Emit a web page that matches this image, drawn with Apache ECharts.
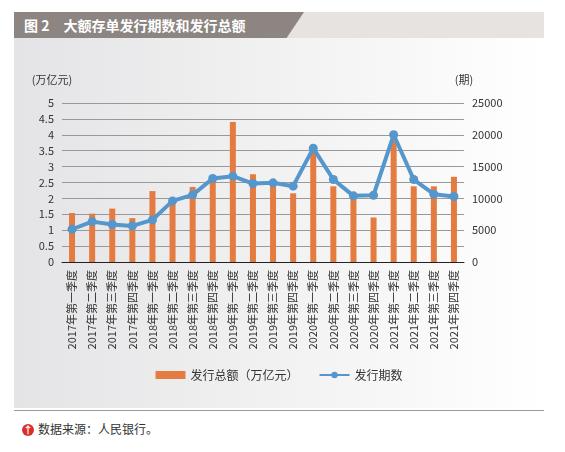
<!DOCTYPE html>
<html><head><meta charset="utf-8">
<script src="https://cdn.jsdelivr.net/npm/echarts@6/dist/echarts.min.js"></script>
<style>
body{margin:0;background:#fff;font-family:"Noto Sans CJK SC",sans-serif;}
#head{position:absolute;left:14px;top:12px;width:530px;height:26px;background:#e6e3e0;}
#head .dk{position:absolute;left:0;top:0;height:26px;width:290px;background:#8c8582;clip-path:polygon(0 0,100% 0,94% 100%,0 100%);}
#head span{position:absolute;left:10px;top:3px;color:#fff;font-size:14px;font-weight:bold;}
#chart{position:absolute;left:14px;top:38px;width:530px;height:370px;background:linear-gradient(90deg,#e4e4e6,#ffffff);}
#line{position:absolute;left:14px;top:410px;width:530px;border-top:1px solid #999;}
#src{position:absolute;left:22px;top:420px;font-size:12px;color:#333;}
#src b{display:inline-block;width:12px;height:12px;border-radius:6px;background:#d9302c;color:#fff;font-size:10px;text-align:center;line-height:12px;margin-right:4px;}
</style></head><body>
<div id="head"><div class="dk"></div><span>图 2　大额存单发行期数和发行总额</span></div>
<div id="chart"></div>
<div id="line"></div>
<div id="src"><b>↑</b>数据来源：人民银行。</div>
<script>
const categories = ['2017年第一季度','2017年第二季度','2017年第三季度','2017年第四季度','2018年第一季度','2018年第二季度','2018年第三季度','2018年第四季度','2019年第一季度','2019年第二季度','2019年第三季度','2019年第四季度','2020年第一季度','2020年第二季度','2020年第三季度','2020年第四季度','2021年第一季度','2021年第二季度','2021年第三季度','2021年第四季度'];
const amount = [1.54,1.52,1.68,1.38,2.23,1.85,2.36,2.69,4.40,2.76,2.41,2.16,3.5,2.38,2.06,1.4,3.81,2.38,2.38,2.68];
const issues = [5150,6350,5900,5670,6620,9610,10560,13130,13500,12340,12450,11920,17900,12970,10400,10500,20000,12970,10660,10300];

const chart = echarts.init(document.getElementById('chart'));
const txt = {color:'#333',fontSize:11};
chart.setOption({
  textStyle:{fontFamily:'Noto Sans CJK SC'},
  grid:{left:48,right:80,top:65,bottom:146},
  legend:{bottom:22,left:'center',itemGap:20,textStyle:{fontSize:12,color:'#333'},
    data:[{name:'发行总额（万亿元）',icon:'rect'},{name:'发行期数'}],itemWidth:30,itemHeight:8},
  xAxis:{type:'category',data:categories,axisTick:{show:false},
    axisLine:{lineStyle:{color:'#222'}},
    axisLabel:{rotate:90,interval:0,fontSize:11,color:'#333'}},
  yAxis:[
    {type:'value',min:0,max:5,interval:0.5,name:'(万亿元)',nameGap:18,nameTextStyle:{fontSize:11,color:'#333',padding:[0,20,0,0]},
     axisLabel:txt,axisLine:{show:false},axisTick:{show:false},splitLine:{lineStyle:{color:'#999'}}},
    {type:'value',min:0,max:25000,interval:5000,name:'(期)',nameGap:18,nameTextStyle:{fontSize:11,color:'#333'},
     axisLabel:Object.assign({formatter:v => String(v)},txt),axisLine:{show:false},axisTick:{show:false},splitLine:{show:false}}
  ],
  series:[
    {name:'发行总额（万亿元）',type:'bar',data:amount,barWidth:6,itemStyle:{color:'#e47b40'}},
    {name:'发行期数',type:'line',yAxisIndex:1,data:issues,symbol:'circle',symbolSize:9,
     lineStyle:{width:4,color:'#5596cc'},itemStyle:{color:'#5596cc'}}
  ]
});
</script></body></html>
